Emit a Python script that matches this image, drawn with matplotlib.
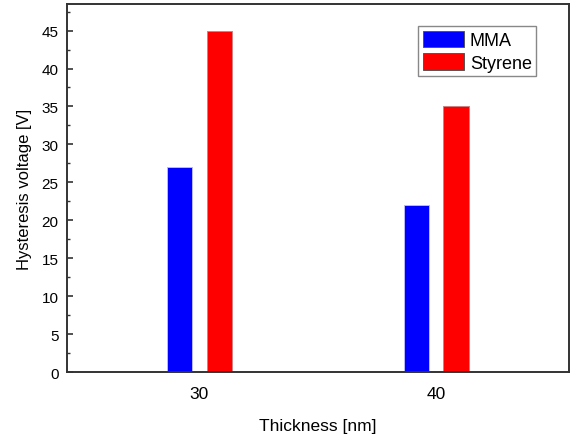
import matplotlib
matplotlib.use("Agg")
import matplotlib.pyplot as plt
import numpy as np
from matplotlib.ticker import MultipleLocator

plt.rcParams['font.family'] = ['Liberation Sans', 'DejaVu Sans']

# data
thickness = [30, 40]
mma = [27, 22]
styrene = [45, 35]
series_names = ["MMA", "Styrene"]

fig = plt.figure(figsize=(5.71, 4.39), dpi=100)
ax = fig.add_axes([0.117, 0.1503, 0.8795, 0.8383])

x = np.array(thickness, dtype=float)
width = 1.08
offset = 0.84
ax.bar(x - offset, mma, width, color="#0000ff", edgecolor="#b8b8ff",
       linewidth=0.7, label=series_names[0])
ax.bar(x + offset, styrene, width, color="#ff0000", edgecolor="#d08080",
       linewidth=0.7, label=series_names[1])

ax.set_xlim(24.4, 45.6)
ax.set_ylim(0, 48.5)
ax.set_xticks(thickness)
ax.set_xticklabels([str(t) for t in thickness])
ax.yaxis.set_major_locator(MultipleLocator(5))
ax.yaxis.set_minor_locator(MultipleLocator(2.5))

for s in ax.spines.values():
    s.set_color("#333333")
    s.set_linewidth(1.4)

ax.tick_params(axis="y", which="major", direction="in", length=4, width=1.2,
               color="#333333", labelsize=11, pad=6)
ax.tick_params(axis="y", which="minor", direction="in", length=2.5, width=1.0,
               color="#333333")
ax.tick_params(axis="x", length=0, labelsize=12.5, pad=10)

ax.set_xlabel("Thickness [nm]", fontsize=12.5, labelpad=12)
ax.set_ylabel("Hysteresis voltage [V]", fontsize=12, labelpad=7)

leg = ax.legend(loc="upper right", bbox_to_anchor=(0.935, 0.94), fontsize=13,
                fancybox=False, framealpha=1, edgecolor="#888888",
                handlelength=2.25, handleheight=1.0, borderpad=0.25,
                labelspacing=0.25, handletextpad=0.35, borderaxespad=0)
leg.get_frame().set_linewidth(1.0)
for h in leg.legend_handles:
    h.set_edgecolor("#555555")

fig.savefig("out.png", dpi=100)
